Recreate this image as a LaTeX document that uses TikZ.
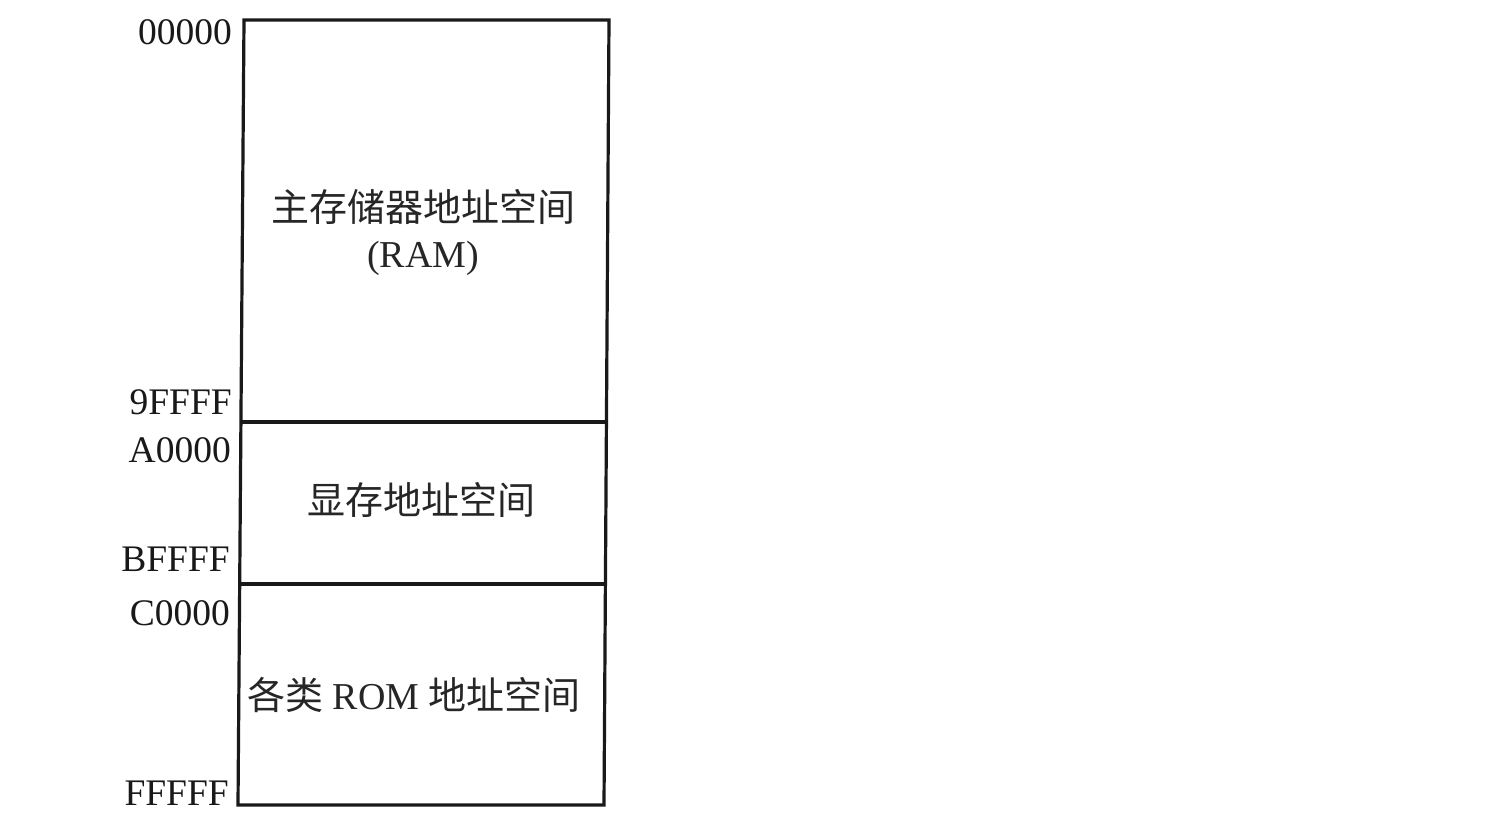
\documentclass[tikz,border=0pt]{standalone}
\usepackage{fontspec}
\setmainfont{Liberation Serif}
\newfontfamily\cjk{Noto Sans CJK SC}
\begin{document}
\begin{tikzpicture}[x=1pt,y=-1pt,
  addr/.style={anchor=base east,inner sep=0pt,font=\fontsize{37.5}{40}\selectfont,text=black!90},
  lbl/.style={anchor=center,inner sep=0pt,font=\fontsize{38}{44}\selectfont,text=black!85,align=center},
  edge/.style={line width=3.2pt,draw=black!90,line join=miter}]
\useasboundingbox (0,0) rectangle (1500,827);
\fill[white] (0,0) rectangle (1500,827);
% box
\coordinate (tl) at (244,20);
\coordinate (tr) at (609,20);
\coordinate (br) at (604,805);
\coordinate (bl) at (238,805);
\coordinate (d1l) at (242,422);
\coordinate (d1r) at (607,422);
\coordinate (d2l) at (240,584);
\coordinate (d2r) at (605,584);
\draw[edge] (tl) -- (tr) -- (br) -- (bl) -- cycle;
\draw[edge] (d1l) -- (d1r);
\draw[edge] (d2l) -- (d2r);
% address labels
\node[addr] (a0) at (232,45) {00000};
\node[addr] (a1) at (232,414) {9FFFF};
\node[addr] (a2) at (231,462) {A0000};
\node[addr] (a3) at (230,571) {BFFFF};
\node[addr] (a4) at (230,625) {C0000};
\node[addr] (a5) at (229,805) {FFFFF};
% region labels
\node[lbl] (ram) at (423,207) {{\cjk 主存储器地址空间}};
\node[lbl,anchor=base] (ramb) at (423,267) {(RAM)};
\node[lbl] (vram) at (421,500) {{\cjk 显存地址空间}};
\node[lbl] (rom) at (414,695) {{\cjk 各类} ROM {\cjk 地址空间}};
\end{tikzpicture}
\end{document}
